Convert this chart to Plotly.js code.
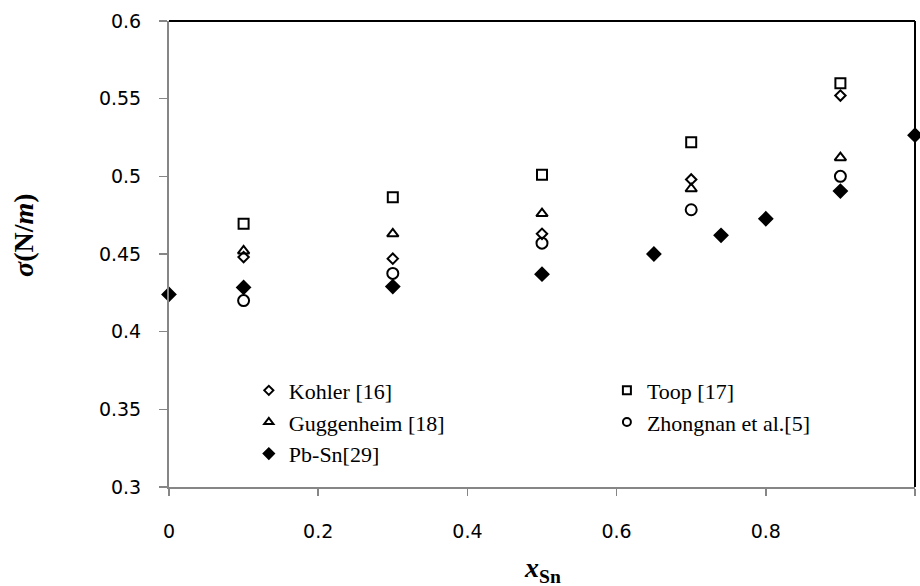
<!DOCTYPE html>
<html>
<head>
<meta charset="utf-8">
<script src="https://cdn.plot.ly/plotly-3.0.1.min.js"></script>
<style>html,body{margin:0;padding:0;background:#fff;}#chart{width:920px;height:586px;}</style>
</head>
<body>
<div id="chart"></div>
<script>
// Model compositions x_Sn
const xModel = [0.1, 0.3, 0.5, 0.7, 0.9];
const kohler = [0.448, 0.447, 0.463, 0.498, 0.552];
const toop = [0.4695, 0.4865, 0.501, 0.522, 0.560];
const guggenheim = [0.452, 0.463, 0.476, 0.492, 0.512];
const zhongnan = [0.420, 0.4375, 0.457, 0.4785, 0.500];
// Experimental Pb-Sn data
const xExp = [0, 0.1, 0.3, 0.5, 0.65, 0.74, 0.8, 0.9, 1.0];
const pbsn = [0.424, 0.4285, 0.429, 0.437, 0.450, 0.462, 0.4727, 0.4905, 0.5265];

const names = ['Kohler [16]', 'Toop [17]', 'Guggenheim [18]', 'Zhongnan et al.[5]', 'Pb-Sn[29]'];
const xTicks = [0, 0.2, 0.4, 0.6, 0.8, 1];
const xTickText = ['0', '0.2', '0.4', '0.6', '0.8', '1'];
const yTicks = [0.3, 0.35, 0.4, 0.45, 0.5, 0.55, 0.6];
const yTickText = ['0.3', '0.35', '0.4', '0.45', '0.5', '0.55', '0.6'];

const SERIF = 'Liberation Serif';
const SANS = 'DejaVu Sans';

const series = [
  {name: names[0], x: xModel, y: kohler, symbol: 'diamond-open', size: 8, lsize: 7, leg: 'legend', rank: 1},
  {name: names[1], x: xModel, y: toop, symbol: 'square-open', size: 10, lsize: 8, leg: 'legend2', rank: 1},
  {name: names[2], x: xModel, y: guggenheim, symbol: 'triangle-up-open', size: 10, lsize: 8, leg: 'legend', rank: 2},
  {name: names[3], x: xModel, y: zhongnan, symbol: 'circle-open', size: 11, lsize: 8, leg: 'legend2', rank: 2},
  {name: names[4], x: xExp, y: pbsn, symbol: 'diamond', size: 10, lsize: 8, leg: 'legend', rank: 3}
];

const traces = [];
series.forEach(s => {
  traces.push({
    type: 'scatter', mode: 'markers', x: s.x, y: s.y, name: s.name,
    showlegend: false, cliponaxis: false,
    marker: {symbol: s.symbol, size: s.size, color: '#000', line: {color: '#000', width: 2}}
  });
});
series.forEach(s => {
  traces.push({
    type: 'scatter', mode: 'markers', x: [null], y: [null], name: s.name,
    showlegend: true, legend: s.leg, legendrank: s.rank,
    marker: {symbol: s.symbol, size: s.lsize, color: '#000', line: {color: '#000', width: 2}}
  });
});

const legendCommon = {
  orientation: 'v', xanchor: 'left', yanchor: 'top', y: 0.252,
  font: {family: SERIF, size: 22, color: '#000'},
  bgcolor: 'rgba(0,0,0,0)', itemwidth: 30, tracegroupgap: 0
};

const layout = {
  width: 920, height: 586,
  margin: {l: 169, r: 5, t: 21, b: 99},
  paper_bgcolor: '#fff', plot_bgcolor: '#fff',
  font: {family: SERIF, size: 22, color: '#000'},
  showlegend: true,
  legend: Object.assign({}, legendCommon, {x: 0.107}),
  legend2: Object.assign({}, legendCommon, {x: 0.587}),
  xaxis: {
    range: [0, 1], tickvals: xTicks, ticktext: xTickText,
    showgrid: false, zeroline: false, showline: true, linecolor: '#868686', linewidth: 2,
    ticks: 'outside', ticklen: 7, tickcolor: '#868686', tickwidth: 1.5,
    ticklabelstandoff: 19,
    tickfont: {family: SANS, size: 19, color: '#000'}
  },
  yaxis: {
    range: [0.3, 0.6], tickvals: yTicks, ticktext: yTickText,
    showgrid: false, zeroline: false, showline: true, linecolor: '#868686', linewidth: 2,
    ticks: 'outside', ticklen: 8, tickcolor: '#868686', tickwidth: 1.5,
    ticklabelstandoff: 14,
    tickfont: {family: SANS, size: 19, color: '#000'}
  },
  shapes: [
    {type: 'line', xref: 'paper', yref: 'paper', x0: 0, x1: 1, y0: 1, y1: 1, line: {color: '#000', width: 2}},
    {type: 'line', xref: 'paper', yref: 'paper', x0: 1, x1: 1, y0: 0, y1: 1, line: {color: '#000', width: 2}}
  ],
  annotations: [
    {xref: 'paper', yref: 'paper', x: -0.195, y: 0.54, xanchor: 'center', yanchor: 'middle',
     textangle: -90, showarrow: false,
     text: '<b><i>σ</i>(N/<i>m</i>)</b>',
     font: {family: SERIF, size: 28, color: '#000'}},
    {xref: 'paper', yref: 'paper', x: 0.5, y: -0.178, xanchor: 'center', yanchor: 'middle',
     showarrow: false,
     text: '<b><i>x</i></b><sub><b>Sn</b></sub>',
     font: {family: SERIF, size: 28, color: '#000'}}
  ]
};

Plotly.newPlot('chart', traces, layout, {displayModeBar: false, staticPlot: true});
</script>
</body>
</html>
